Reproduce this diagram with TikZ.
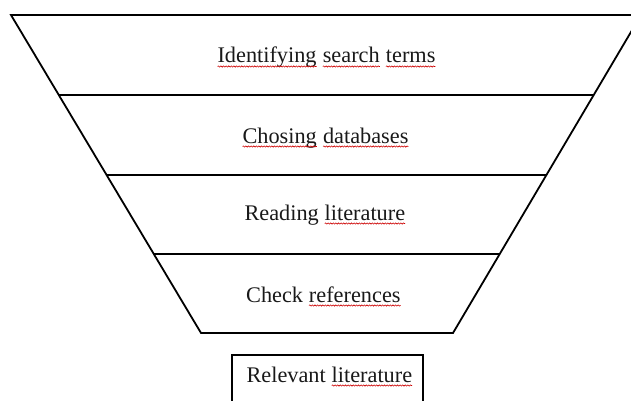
\documentclass[tikz,border=0pt]{standalone}
\usepackage{fontspec}
\setmainfont{Liberation Serif}
\usetikzlibrary{calc,decorations.pathmorphing}
\newcommand\sqw[1]{\tikz[baseline=(sqw.base)]{\node[inner sep=0pt,outer sep=0pt,anchor=base](sqw){#1};\draw[red!80!black, line width=0.6pt, decorate, decoration={snake,amplitude=0.6pt,segment length=2.6pt}] ([yshift=-3.5pt]sqw.base west) -- ([yshift=-3.5pt]sqw.base east);}}
\tikzset{
  funnel/.style={line width=1.8pt, line join=miter},
  lbl/.style={inner sep=0pt, anchor=base, font=\fontsize{22.3}{26}\selectfont, text=black!90}
}
\begin{document}
\begin{tikzpicture}[x=1pt,y=-1pt]
\useasboundingbox (0,0) rectangle (631,401);
\clip (0,0) rectangle (631,401);
\coordinate (tl) at (11,15);
\coordinate (tr) at (641,15);
\coordinate (bl) at (201,333);
\coordinate (br) at (453,333);
\draw[funnel] (tl) -- (tr) -- (br) -- (bl) -- cycle;
\foreach \t/\n in {0.2516/a,0.5031/b,0.7516/c}{
  \coordinate (l\n) at ($(tl)!\t!(bl)$);
  \coordinate (r\n) at ($(tr)!\t!(br)$);
  \draw[funnel] (l\n) -- (r\n);
}
\node[lbl] (t1) at (326.5,63) {\sqw{Identifying} \sqw{search} \sqw{terms}};
\node[lbl] (t2) at (325.5,143) {\sqw{Chosing} \sqw{databases}};
\node[lbl] (t3) at (325,220) {Reading \sqw{literature}};
\node[lbl] (t4) at (323.5,302) {Check \sqw{references}};
\coordinate (bxa) at (231.7,355);
\coordinate (bxb) at (423,415);
\draw[funnel] (bxa) rectangle (bxb);
\node[lbl] (t5) at (329.5,382) {Relevant \sqw{literature}};
\end{tikzpicture}
\end{document}
